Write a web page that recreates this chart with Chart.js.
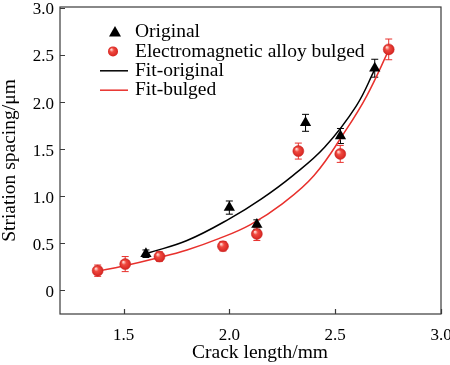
<!DOCTYPE html>
<html><head><meta charset="utf-8">
<script src="https://cdn.jsdelivr.net/npm/chart.js@4/dist/chart.umd.min.js"></script>
<style>html,body{margin:0;padding:0;background:#fff}#wrap{width:450px;height:365px}</style>
</head><body><div id="wrap"><canvas id="c" width="450" height="365"></canvas></div>
<script>
const xTicks=[1.5,2.0,2.5,3.0];
const yTicks=[0,0.5,1.0,1.5,2.0,2.5,3.0];
const originalX=[1.606,2.00,2.13,2.36,2.525,2.687];
const originalY=[0.39,0.88,0.70,1.78,1.64,2.36];
const originalErr=[0.04,0.07,0.05,0.09,0.08,0.095];
const bulgedX=[1.378,1.508,1.67,1.97,2.13,2.326,2.524,2.753];
const bulgedY=[0.21,0.28,0.36,0.47,0.60,1.48,1.45,2.56];
const bulgedErr=[0.06,0.08,0.05,0.05,0.07,0.085,0.09,0.11];
const fitOrigX=[1.62,1.80,2.00,2.15,2.30,2.45,2.60,2.69];
const fitOrigY=[0.40,0.53,0.76,0.97,1.22,1.52,1.96,2.36];
const fitBulgedX=[1.37,1.50,1.65,1.80,1.95,2.10,2.25,2.40,2.55,2.65,2.757];
const fitBulgedY=[0.20,0.26,0.34,0.43,0.55,0.70,0.92,1.22,1.70,2.07,2.57];
const labels=['Original','Electromagnetic alloy bulged','Fit-original','Fit-bulged'];
const xTitle='Crack length/mm';
const yTitle='Striation spacing/μm';

const RED='#e8302c', BLACK='#000';
const AXIS='#3a3a3a';
const SERIF='"Liberation Serif","Times New Roman",serif';
const pts=(xs,ys)=>xs.map((x,i)=>({x:x,y:ys[i]}));

function sphere(ctx,x,y,r){
  const g=ctx.createRadialGradient(x-r*0.35,y-r*0.4,r*0.1,x,y,r);
  g.addColorStop(0,'#ffd0c8');g.addColorStop(0.35,'#f04a40');g.addColorStop(1,'#d62420');
  return g;
}
function circleFill(c){
  const ch=c.chart;
  if(!ch.scales||!ch.scales.x||!c.raw) return RED;
  const x=ch.scales.x.getPixelForValue(c.raw.x),y=ch.scales.y.getPixelForValue(c.raw.y);
  if(!isFinite(x)||!isFinite(y)) return RED;
  return sphere(ch.ctx,x,y,5.5);
}

const errorBars={id:'errorBars',
  beforeDatasetsDraw(chart){
    const ctx=chart.ctx,xs=chart.scales.x,ys=chart.scales.y;
    const sets=[[originalX,originalY,originalErr,BLACK],[bulgedX,bulgedY,bulgedErr,RED]];
    ctx.save();ctx.lineWidth=1;
    sets.forEach(([X,Y,E,col])=>{
      ctx.strokeStyle=col;
      X.forEach((x,i)=>{
        const px=xs.getPixelForValue(x),t=ys.getPixelForValue(Y[i]+E[i]),b=ys.getPixelForValue(Y[i]-E[i]);
        ctx.beginPath();ctx.moveTo(px,t);ctx.lineTo(px,b);
        ctx.moveTo(px-3.5,t);ctx.lineTo(px+3.5,t);
        ctx.moveTo(px-3.5,b);ctx.lineTo(px+3.5,b);ctx.stroke();
      });
    });
    ctx.restore();
  }};

const frame={id:'frame',
  afterDraw(chart){
    const ctx=chart.ctx,a=chart.chartArea,xs=chart.scales.x,ys=chart.scales.y;
    ctx.save();ctx.strokeStyle=AXIS;ctx.lineWidth=1.2;
    ctx.strokeRect(a.left,a.top,a.right-a.left,a.bottom-a.top);
    ctx.beginPath();
    xTicks.forEach(v=>{const p=Math.round(xs.getPixelForValue(v))+0.5;ctx.moveTo(p,a.bottom);ctx.lineTo(p,a.bottom-5);});
    yTicks.forEach(v=>{const p=Math.round(ys.getPixelForValue(v))+0.5;ctx.moveTo(a.left,p);ctx.lineTo(a.left+5,p);});
    ctx.stroke();
    // x axis title (sits slightly right of centre in the reference)
    ctx.font='19.5px '+SERIF;ctx.fillStyle='#000';ctx.textAlign='center';ctx.textBaseline='alphabetic';
    ctx.fillText(xTitle,260,358);
    // legend
    const ds=chart.data.datasets;
    ctx.textBaseline='middle';ctx.textAlign='left';
    const tx=135,y0=32,dy=19.4;
    labels.forEach((lab,i)=>{
      const y=y0+i*dy;
      const d=ds[i];
      if(i===0){ctx.fillStyle=BLACK;ctx.beginPath();ctx.moveTo(115,y-6);ctx.lineTo(121,y+4.5);ctx.lineTo(109,y+4.5);ctx.closePath();ctx.fill();}
      else if(i===1){ctx.fillStyle=sphere(ctx,113,y,5);ctx.beginPath();ctx.arc(113,y,5,0,Math.PI*2);ctx.fill();}
      else{ctx.strokeStyle=d.borderColor;ctx.lineWidth=1.5;ctx.beginPath();ctx.moveTo(100,y);ctx.lineTo(128,y);ctx.stroke();}
      ctx.fillStyle='#000';ctx.fillText(lab,tx,y);
    });
    ctx.restore();
  }};

new Chart(document.getElementById('c'),{
  type:'scatter',
  data:{datasets:[
    {label:labels[0],data:pts(originalX,originalY),pointStyle:'triangle',pointRadius:6.5,backgroundColor:BLACK,borderColor:BLACK,borderWidth:0,showLine:false,order:1},
    {label:labels[1],data:pts(bulgedX,bulgedY),pointStyle:'circle',pointRadius:5.5,backgroundColor:circleFill,borderColor:'#c52320',borderWidth:0.5,showLine:false,order:0},
    {label:labels[2],data:pts(fitOrigX,fitOrigY),showLine:true,pointRadius:0,borderColor:BLACK,borderWidth:1.5,tension:0.4,order:3},
    {label:labels[3],data:pts(fitBulgedX,fitBulgedY),showLine:true,pointRadius:0,borderColor:RED,borderWidth:1.5,tension:0.4,order:2}
  ]},
  options:{
    responsive:false,animation:false,devicePixelRatio:1,
    layout:{padding:{left:0,right:9,top:7,bottom:0}},
    plugins:{legend:{display:false},tooltip:{enabled:false}},
    scales:{
      x:{type:'linear',min:1.2,max:3.0,
        afterBuildTicks:s=>{s.ticks=xTicks.map(v=>({value:v}));},
        afterFit:s=>{s.height=51;s.paddingLeft=0;s.paddingRight=0;},
        grid:{display:false,drawTicks:false},border:{display:false},
        ticks:{color:'#000',font:{family:SERIF,size:17,lineHeight:1.0},padding:13,maxRotation:0,callback:v=>v.toFixed(1)},
        title:{display:false}},
      y:{type:'linear',min:-0.25,max:3.01,
        afterBuildTicks:s=>{s.ticks=yTicks.map(v=>({value:v}));},
        afterFit:s=>{s.width=60;s.paddingTop=0;s.paddingBottom=0;},
        grid:{display:false,drawTicks:false},border:{display:false},
        ticks:{color:'#000',font:{family:SERIF,size:17,lineHeight:1.0},padding:6,labelOffset:2,callback:v=>v===0?'0':v.toFixed(1)},
        title:{display:true,text:yTitle,color:'#000',font:{family:SERIF,size:19.5,lineHeight:1.0},padding:{top:0,bottom:0}}}
    }
  },
  plugins:[errorBars,frame]
});
</script></body></html>
